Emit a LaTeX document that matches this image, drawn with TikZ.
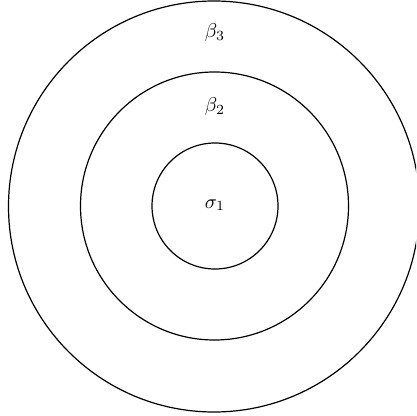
\documentclass[tikz,border=0pt]{standalone}
\begin{document}
\begin{tikzpicture}[x=0.5pt,y=-0.5pt,
  ring/.style={circle,draw,line width=0.6pt,inner sep=0pt,outer sep=0pt},
  lab/.style={anchor=base,inner sep=0pt}]
\useasboundingbox (0,0) rectangle (416,416);
\clip (0,0) rectangle (416,416);
\node[ring,minimum size=205.5pt] (outer) at (214,206.5) {};
\node[ring,minimum size=134pt] (middle) at (214.5,206) {};
\node[ring,minimum size=63pt] (inner) at (215,206) {};
\node[lab] (b3) at (215,38) {$\beta_3$};
\node[lab] (b2) at (215,112) {$\beta_2$};
\node[lab] (s1) at (215,208) {$\sigma_1$};
\end{tikzpicture}
\end{document}
